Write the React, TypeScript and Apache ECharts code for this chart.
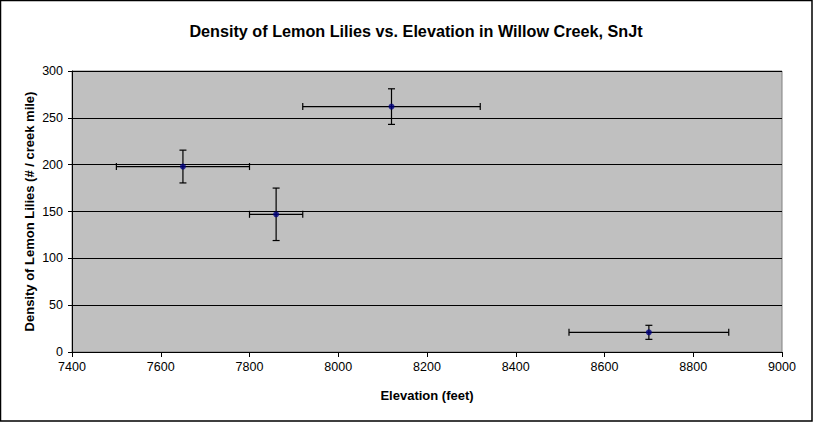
import React, { useEffect, useRef } from "react";
import * as echarts from "echarts";

const elevation = [7650, 7860, 8120, 8700];
const density = [198, 147, 262, 21];
const elevationError = [150, 60, 200, 180];
const densityError = [17.5, 28, 19, 7.5];

const xTicks = { min: 7400, max: 9000, interval: 200 };
const yTicks = { min: 0, max: 300, interval: 50 };

export default function App() {
  const ref = useRef<HTMLDivElement>(null);

  useEffect(() => {
    document.body.style.margin = "0";
    const chart = echarts.init(ref.current!, null, { renderer: "svg" });
    const points = elevation.map((x, i) => [x, density[i]]);
    const errData = elevation.map((x, i) => [x, density[i], elevationError[i], densityError[i]]);
    const font = "Arial, 'Liberation Sans', sans-serif";

    chart.setOption({
      animation: false,
      backgroundColor: "#ffffff",
      title: {
        text: "Density of Lemon Lilies vs. Elevation in Willow Creek, SnJt",
        left: 411,
        textAlign: "center",
        top: 18,
        textStyle: { fontFamily: font, fontSize: 16.2, fontWeight: "bold", color: "#000" },
      },
      graphic: [
        {
          type: "rect",
          shape: { x: 0.5, y: 0.5, width: 811.5, height: 420.5 },
          style: { fill: "none", stroke: "#000", lineWidth: 1.5 },
          silent: true,
          z: 100,
        },
      ],
      grid: {
        left: 72,
        right: 31,
        top: 71,
        bottom: 70,
        show: true,
        backgroundColor: "#c0c0c0",
        borderColor: "#808080",
        borderWidth: 1,
      },
      xAxis: {
        type: "value",
        min: xTicks.min,
        max: xTicks.max,
        interval: xTicks.interval,
        name: "Elevation (feet)",
        nameLocation: "middle",
        nameGap: 37,
        nameMoveOverlap: false,
        nameTextStyle: { fontFamily: font, fontSize: 13, fontWeight: "bold", color: "#000" },
        axisLine: { show: true, onZero: false, lineStyle: { color: "#000", width: 1 } },
        axisTick: { show: true, inside: false, length: 5, lineStyle: { color: "#000" } },
        axisLabel: {
          fontFamily: font,
          fontSize: 12.5,
          color: "#000",
          margin: 8,
          formatter: (v: number) => String(v),
        },
        splitLine: { show: false },
      },
      yAxis: {
        type: "value",
        min: yTicks.min,
        max: yTicks.max,
        interval: yTicks.interval,
        name: "Density of Lemon Lilies (# / creek mile)",
        nameLocation: "middle",
        nameGap: 36,
        nameMoveOverlap: false,
        nameTextStyle: { fontFamily: font, fontSize: 13, fontWeight: "bold", color: "#000" },
        axisLine: { show: true, lineStyle: { color: "#000", width: 1 } },
        axisTick: { show: true, inside: false, length: 4, lineStyle: { color: "#000" } },
        axisLabel: { fontFamily: font, fontSize: 12.5, color: "#000", margin: 9 },
        splitLine: { show: true, lineStyle: { color: "#000", width: 1 } },
      },
      series: [
        {
          type: "custom",
          data: errData,
          z: 3,
          renderItem: (params: any, api: any) => {
            const x = api.value(0);
            const y = api.value(1);
            const ex = api.value(2);
            const ey = api.value(3);
            const left = api.coord([x - ex, y]);
            const right = api.coord([x + ex, y]);
            const top = api.coord([x, y + ey]);
            const bottom = api.coord([x, y - ey]);
            const c = 3.5;
            const st = { stroke: "#000", lineWidth: 1.2 };
            return {
              type: "group",
              children: [
                { type: "line", shape: { x1: left[0], y1: left[1], x2: right[0], y2: right[1] }, style: st },
                { type: "line", shape: { x1: left[0], y1: left[1] - c, x2: left[0], y2: left[1] + c }, style: st },
                { type: "line", shape: { x1: right[0], y1: right[1] - c, x2: right[0], y2: right[1] + c }, style: st },
                { type: "line", shape: { x1: top[0], y1: top[1], x2: bottom[0], y2: bottom[1] }, style: st },
                { type: "line", shape: { x1: top[0] - c, y1: top[1], x2: top[0] + c, y2: top[1] }, style: st },
                { type: "line", shape: { x1: bottom[0] - c, y1: bottom[1], x2: bottom[0] + c, y2: bottom[1] }, style: st },
              ],
            };
          },
        },
        {
          type: "scatter",
          data: points,
          symbol: "circle",
          symbolSize: 6,
          itemStyle: { color: "#000080" },
          z: 5,
        },
      ],
    });
    return () => chart.dispose();
  }, []);

  return <div ref={ref} style={{ width: 813, height: 422 }} />;
}
